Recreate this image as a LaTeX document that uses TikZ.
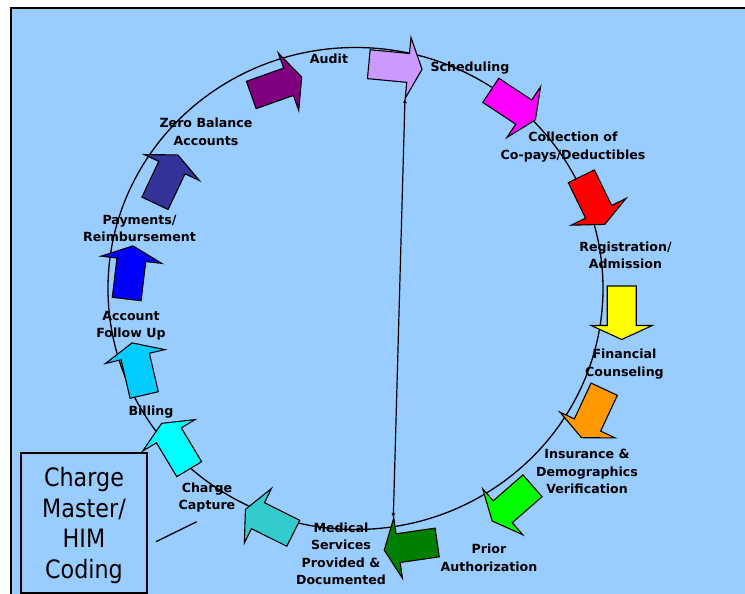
\documentclass[tikz,border=0pt]{standalone}
\usepackage{fontspec}
\setmainfont{DejaVu Sans}
\newfontfamily\boxfont[FakeStretch=0.88]{DejaVu Sans}
\usetikzlibrary{arrows.meta}
\definecolor{bgblue}{HTML}{99CCFF}
\definecolor{cAudit}{HTML}{800080}
\definecolor{cSched}{HTML}{CC99FF}
\definecolor{cColl}{HTML}{FF00FF}
\definecolor{cReg}{HTML}{FF0000}
\definecolor{cFin}{HTML}{FFFF00}
\definecolor{cIns}{HTML}{FF9900}
\definecolor{cPrior}{HTML}{00FF00}
\definecolor{cMed}{HTML}{008000}
\definecolor{cCharge}{HTML}{33CCCC}
\definecolor{cBill}{HTML}{00FFFF}
\definecolor{cAcct}{HTML}{00CCFF}
\definecolor{cPay}{HTML}{0000FF}
\definecolor{cZero}{HTML}{333399}
\tikzset{
  blk/.style={draw=black, line width=1.1pt, line join=miter},
  blockarrow/.pic={
    \path[blk, pic actions] (0,-14.5) -- (39.5,-14.5) -- (39.5,-30.5) -- (53.5,0)
      -- (39.5,30.5) -- (39.5,14.5) -- (0,14.5) -- cycle;
  },
  lbl/.style={align=center, inner sep=0pt, font=\bfseries\fontsize{12.6}{17.5}\selectfont},
  hframe/.style={draw=black, line width=2pt, inner sep=0pt,
    minimum width=126.6pt, minimum height=139.4pt},
  htext/.style={align=center, inner sep=0pt,
    font=\boxfont\fontsize{25.3}{30.6}\selectfont},
}
\begin{document}
\begin{tikzpicture}[x=1pt, y=-1pt]
\useasboundingbox (0,0) rectangle (745,594);
\clip (0,0) rectangle (745,594);
\fill[white] (0,0) rectangle (745,594);
\draw[fill=bgblue, line width=2pt] (11,8) rectangle (770,620);

% labels
\node[lbl] (audit) at (329,59) {Audit};
\node[lbl] (sched) at (470,68) {Scheduling};
\node[lbl] (coll) at (573,147) {Collection of\\Co-pays/Deductibles};
\node[lbl] (reg) at (625.5,255.5) {Registration/\\Admission};
\node[lbl] (fin) at (624.5,364) {Financial\\Counseling};
\node[lbl] (ins) at (587,471.5) {Insurance \&\\Demographics\\Verification};
\node[lbl] (prior) at (489,558) {Prior\\Authorization};
\node[lbl] (med) at (341,554) {Medical\\Services\\Provided \&\\Documented};
\node[lbl] (chg) at (207,497.7) {Charge\\Capture};
\node[lbl] (bill) at (151,412) {Billing};
\node[lbl] (acct) at (131,325.7) {Account\\Follow Up};
\node[lbl] (pay) at (139.5,228.7) {Payments/\\Reimbursement};
\node[lbl] (zero) at (206,131.7) {Zero Balance\\Accounts};

% cycle
\draw[line width=1.3pt] (355.5,288.5) ellipse [x radius=247.5, y radius=241];

% block arrows
\pic[fill=cAudit, rotate=19.6] at (251.3,95) {blockarrow};
\pic[fill=cSched, rotate=-5.4] at (368.8,64.2) {blockarrow};
\pic[fill=cColl, rotate=-33.5] at (490.8,90.3) {blockarrow};
\pic[fill=cReg, rotate=-64] at (581.3,176.3) {blockarrow};
\pic[fill=cFin, rotate=-90] at (621.7,286) {blockarrow};
\pic[fill=cIns, rotate=-115] at (604.2,389.2) {blockarrow};
\pic[fill=cPrior, rotate=-138.9] at (532.5,485.8) {blockarrow};
\pic[fill=cMed, rotate=-171.8] at (437.2,542.5) {blockarrow};
\pic[fill=cCharge, rotate=153.5] at (293.3,533.3) {blockarrow};
\pic[fill=cBill, rotate=121] at (189.2,469.2) {blockarrow};
\pic[fill=cAcct, rotate=103.1] at (144.2,395) {blockarrow};
\pic[fill=cPay, rotate=83.2] at (126.7,299) {blockarrow};
\pic[fill=cZero, rotate=64.7] at (155,203.3) {blockarrow};

% charge master box
\node[hframe, fill=bgblue] (him) at (84,523) {};
\node[htext] (himtext) at (84,525.5) {Charge\\Master/\\HIM\\Coding};
\coordinate (lk1) at (156,541.7);
\coordinate (lk2) at (196.7,521.7);
\draw[line width=1.3pt] (lk1) -- (lk2);

% double arrow
\coordinate (ctop) at (405,98);
\coordinate (cbot) at (393.3,518);
\draw[line width=1.2pt, {Latex[length=5pt,width=4pt]}-{Latex[length=5pt,width=4pt]}] (cbot) -- (ctop);
\end{tikzpicture}
\end{document}
